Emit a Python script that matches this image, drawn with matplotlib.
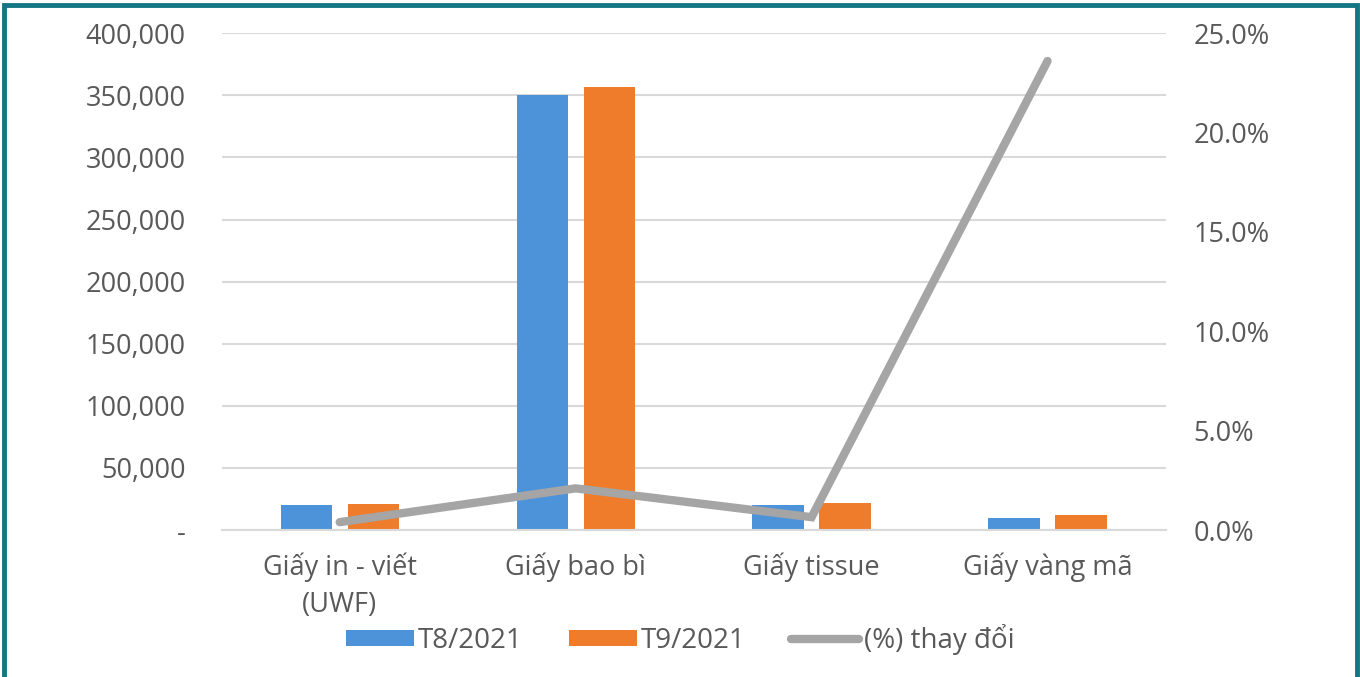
import matplotlib.pyplot as plt
from matplotlib.lines import Line2D
from matplotlib.ticker import FuncFormatter
import numpy as np

plt.rcParams['font.family'] = ['Open Sans', 'DejaVu Sans']

categories = ["Giấy in - viết\n(UWF)", "Giấy bao bì", "Giấy tissue", "Giấy vàng mã"]
t8_2021 = [20100, 350200, 20500, 9700]
t9_2021 = [21000, 356500, 21500, 12000]
pct_change = [0.4, 2.1, 0.65, 23.6]

TEXT = '#595959'
BLUE = '#4d93d9'
ORANGE = '#ee7c2b'
GRAY = '#a5a5a5'
BORDER = '#137684'

fig = plt.figure(figsize=(13.6, 6.77), dpi=100)
ax = fig.add_axes([0.163, 0.217, 0.694, 0.734])
ax2 = ax.twinx()

x = np.arange(len(categories))
w = 0.217
off = 0.142
b1 = ax.bar(x - off, t8_2021, w, color=BLUE, label='T8/2021', zorder=2)
b2 = ax.bar(x + off, t9_2021, w, color=ORANGE, label='T9/2021', zorder=2)
ln, = ax2.plot(x, pct_change, color=GRAY, lw=6, solid_capstyle='round',
               solid_joinstyle='miter', label='(%) thay đổi', zorder=3)

ax.set_xlim(-0.5, 3.5)
ax.set_ylim(0, 400000)
ax.set_yticks(np.arange(0, 400001, 50000))
ax.yaxis.set_major_formatter(FuncFormatter(lambda v, p: '-' if v == 0 else f'{v:,.0f}'))
ax2.set_ylim(0, 25)
ax2.set_yticks(np.arange(0, 25.1, 5))
ax2.yaxis.set_major_formatter(FuncFormatter(lambda v, p: f'{v:.1f}%'))

ax.set_xticks(x)
ax.set_xticklabels(categories)
ax.grid(axis='y', color='#d9d9d9', lw=1.5, zorder=0)
ax.set_axisbelow(True)
for a in (ax, ax2):
    for s in a.spines.values():
        s.set_visible(False)
ax.spines['bottom'].set_visible(True)
ax.spines['bottom'].set_color('#d9d9d9')
ax.spines['bottom'].set_linewidth(1.5)

ax.tick_params(axis='y', length=0, pad=26, labelsize=19.5, labelcolor=TEXT)
ax2.tick_params(axis='y', length=0, pad=20, labelsize=19.5, labelcolor=TEXT)
ax.tick_params(axis='x', length=0, pad=16, labelsize=19.5, labelcolor=TEXT)
for t in ax.get_xticklabels():
    t.set_linespacing(1.45)

handles = [b1, b2, ln]
fig.legend(handles=handles, labels=[h.get_label() for h in handles],
           loc='center', bbox_to_anchor=(0.5, 0.055), ncol=3, frameon=False,
           fontsize=20, labelcolor=TEXT, handlelength=2.45, handleheight=0.5,
           handletextpad=0.15, columnspacing=1.65)

# teal frame around the figure
fig.add_artist(Line2D([0.0032, 0.0032, 0.9975, 0.9975], [0.0, 0.992, 0.992, 0.0],
                      transform=fig.transFigure, color=BORDER, lw=3.5,
                      solid_joinstyle='miter'))

fig.savefig('out.png', dpi=100, facecolor='white')
